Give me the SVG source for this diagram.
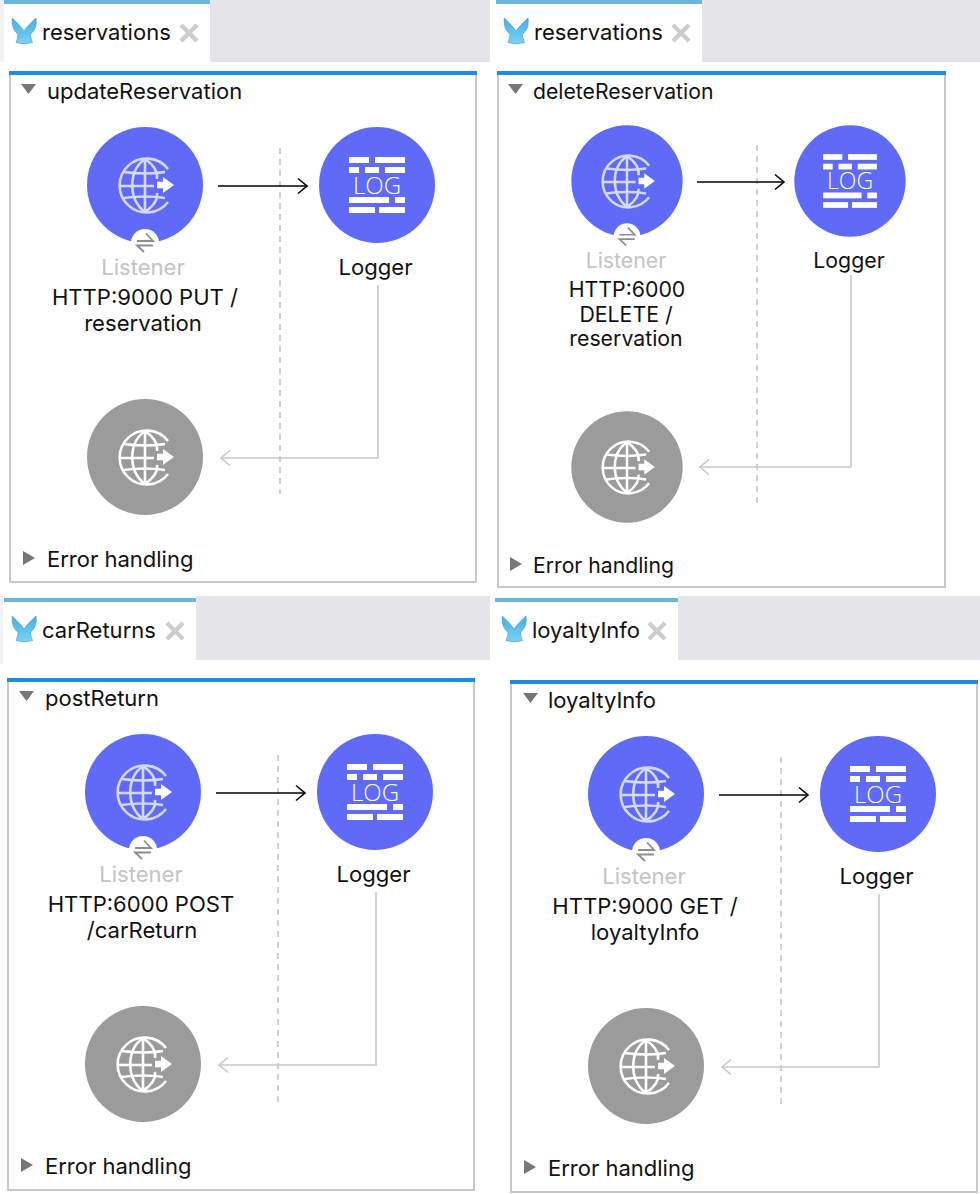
<svg xmlns="http://www.w3.org/2000/svg" xmlns:xlink="http://www.w3.org/1999/xlink" width="980" height="1194" viewBox="0 0 980 1194">
<style>
text{font-family:Inter,"Liberation Sans",sans-serif;fill:#111}
.t{font-size:22px}
.t2{font-size:21.200px}
.c{text-anchor:middle}
.l{font-size:22.100px}
.l2{font-size:21.300px}
.li{fill:#c4c4c4}
.lg{font-family:"Open Sans",sans-serif;font-weight:300;font-size:24px;fill:#fff;text-anchor:middle}
.fr{fill:#fff;stroke:#c8c8c8;stroke-width:2}
.bar{fill:#208be6}
.tabtop{fill:#6cb6dc}
.tabbg{fill:#e4e4e9}
.dash{stroke:#c6c6c6;stroke-width:1.600;stroke-dasharray:6 5;fill:none}
.flow{stroke:#000;stroke-width:1.600;fill:none;marker-end:url(#ab)}
.ret{stroke:#c8c8c8;stroke-width:1.600;fill:none;marker-end:url(#ag)}
.x{stroke:#cdcdcd;stroke-width:4.500;fill:none}
.tri{fill:#777}
</style>
<defs>
<linearGradient id="mg" x1="0" y1="0" x2="0" y2="1"><stop offset="0" stop-color="#45aee2"/><stop offset="1" stop-color="#7ad2f7"/></linearGradient>
<marker id="ab" markerUnits="userSpaceOnUse" markerWidth="14" markerHeight="18" refX="12" refY="9" orient="auto"><path d="M3 1.500 L12 9 L3 16.500" fill="none" stroke="#000" stroke-width="1.600"/></marker>
<marker id="ag" markerUnits="userSpaceOnUse" markerWidth="14" markerHeight="18" refX="12" refY="9" orient="auto"><path d="M3 1.500 L12 9 L3 16.500" fill="none" stroke="#c8c8c8" stroke-width="1.600"/></marker>
<g id="globe" fill="none" stroke-width="2.600">
<path d="M23 -16 A27 27 0 1 0 23 17"/>
<path d="M-21.500 -13 Q1 -10 20 -13 M-21.500 13 Q1 10 20 13 M-26 1H9"/>
<path d="M0 -26 C-17 -14 -17 14 0 27 M0 -26 C10 -19 13 -12 12 -6 M12 8 C13 14 10 20 0 27 M0 -26V27"/>
</g>
<path id="garrow" d="M12 -3.300H18V-8L29 0L18 8V3.300H12Z" stroke="none"/>
<path id="mule" d="M1.300 1 C4 4 9 8 13 14 C17 8 22 4 25 1 C26 8 24 14 19.500 17 C19.500 20 20.500 23 21.500 25.500 C16 27 10 27 5 25.500 C6 23 7 20 7 17 C2.500 14 .5 8 1.300 1Z" fill="url(#mg)" stroke="#3a97c8" stroke-width=".6"/>
<g id="listener">
<circle r="58" fill="#5f6bf6"/>
<g stroke="#d5d9f7"><use xlink:href="#globe" href="#globe"/></g>
<use xlink:href="#garrow" href="#garrow" fill="#fff"/>
<circle cx="0" cy="58" r="14" fill="#fff"/>
<path d="M-8 56H8L1 48.500 M8 60.500H-8L-1 67" fill="none" stroke="#8d8d8d" stroke-width="1.800"/>
</g>
<g id="response">
<circle r="58" fill="#9b9b9b"/>
<g stroke="#fff"><use xlink:href="#globe" href="#globe"/></g>
<use xlink:href="#garrow" href="#garrow" fill="#fff"/>
</g>
<g id="logger">
<circle r="58" fill="#5f6bf6"/>
<g fill="#fff">
<rect x="-28" y="-28" width="20" height="6"/><rect x="-2" y="-28" width="30" height="6"/>
<rect x="-28" y="-18" width="10" height="6"/><rect x="-12" y="-18" width="14" height="6"/><rect x="8" y="-18" width="20" height="6"/>
<rect x="-28" y="12" width="40" height="6"/><rect x="18" y="12" width="10" height="6"/>
<rect x="-28" y="22" width="26" height="6"/><rect x="2" y="22" width="26" height="6"/>
</g>
<text class="lg" x="0" y="8.500">LOG</text>
</g>
</defs>
<rect width="980" height="1194" fill="#fff"/>
<rect x="0" y="0" width="4" height="62" fill="#f2f2f4"/>
<rect x="0" y="596" width="3" height="68" fill="#f2f2f4"/>

<g id="panel-updateReservation-chrome">
<rect class="tabbg" x="210" y="0" width="280" height="62"/>
<rect class="tabtop" x="4" y="0" width="206" height="4"/>
<use xlink:href="#mule" href="#mule" x="11" y="17"/>
<text class="t" x="42" y="40">reservations</text>
<path class="x" d="M181 25L197 41M197 25L181 41"/>
<rect class="fr" x="10" y="72" width="466" height="510"/>
<rect class="bar" x="9" y="71" width="468" height="4"/>
<path class="tri" d="M21 84H36L28.500 94Z"/>
<text class="t" x="47" y="99">updateReservation</text>
<path class="tri" d="M23 551L35 558L23 565Z"/>
<text class="t" x="47" y="567">Error handling</text>
</g>
<g id="panel-deleteReservation-chrome">
<rect class="tabbg" x="702" y="0" width="278" height="62"/>
<rect class="tabtop" x="496" y="0" width="206" height="4"/>
<use xlink:href="#mule" href="#mule" x="503" y="17"/>
<text class="t" x="534" y="40">reservations</text>
<path class="x" d="M673 25L689 41M689 25L673 41"/>
<rect class="fr" x="498" y="72" width="447" height="515"/>
<rect class="bar" x="497" y="71" width="449" height="4"/>
<path class="tri" d="M508 84H523L515.500 94Z"/>
<text class="t2" x="533" y="99">deleteReservation</text>
<path class="tri" d="M510 557L522 564L510 571Z"/>
<text class="t2" x="533" y="573">Error handling</text>
</g>
<g id="panel-postReturn-chrome">
<rect class="tabbg" x="196" y="596" width="294" height="64"/>
<rect class="tabtop" x="4" y="598" width="192" height="4"/>
<use xlink:href="#mule" href="#mule" x="11" y="615"/>
<text class="t" x="42" y="638">carReturns</text>
<path class="x" d="M167 623L183 639M183 623L167 639"/>
<rect class="fr" x="8" y="680" width="466" height="510"/>
<rect class="bar" x="7" y="678" width="468" height="4"/>
<path class="tri" d="M19 691H34L26.500 701Z"/>
<text class="t" x="45" y="706">postReturn</text>
<path class="tri" d="M21 1158L33 1165L21 1172Z"/>
<text class="t" x="45" y="1174">Error handling</text>
</g>
<g id="panel-loyaltyInfo-chrome">
<rect class="tabbg" x="678" y="596" width="302" height="64"/>
<rect class="tabtop" x="495" y="598" width="183" height="4"/>
<use xlink:href="#mule" href="#mule" x="501" y="615"/>
<text class="t" x="532" y="638">loyaltyInfo</text>
<path class="x" d="M649 623L665 639M665 623L649 639"/>
<rect class="fr" x="511" y="682" width="466" height="510"/>
<rect class="bar" x="510" y="680" width="468" height="4"/>
<path class="tri" d="M523 693H538L530.500 703Z"/>
<text class="t" x="548" y="708">loyaltyInfo</text>
<path class="tri" d="M524 1160L536 1167L524 1174Z"/>
<text class="t" x="548" y="1176">Error handling</text>
</g>

<g id="connectors">
<path class="dash" d="M280 148V494"/><path class="flow" d="M218 186H307"/><path class="ret" d="M378 285V458H221"/>
<path class="dash" d="M757 145V505"/><path class="flow" d="M697 182H784"/><path class="ret" d="M851 275V467H700"/>
<path class="dash" d="M278 755V1102"/><path class="flow" d="M216 793H305"/><path class="ret" d="M376 892V1065H219"/>
<path class="dash" d="M781 757V1104"/><path class="flow" d="M719 795H808"/><path class="ret" d="M879 894V1067H722"/>
</g>

<g id="listener-update"><use xlink:href="#listener" href="#listener" transform="translate(145 185)"/>
<text class="l li c" x="143" y="275">Listener</text><text class="l c" x="145" y="305">HTTP:9000 PUT /</text><text class="l c" x="143" y="331">reservation</text></g>
<g id="logger-update"><use xlink:href="#logger" href="#logger" transform="translate(377 185)"/><text class="l c" x="375.500" y="275">Logger</text></g>
<g id="response-update"><use xlink:href="#response" href="#response" transform="translate(145 457)"/></g>

<g id="listener-delete"><use xlink:href="#listener" href="#listener" transform="translate(627 181) scale(.96)"/>
<text class="l2 li c" x="626" y="268">Listener</text><text class="l2 c" x="627" y="297">HTTP:6000</text><text class="l2 c" x="626" y="322">DELETE /</text><text class="l2 c" x="626" y="346">reservation</text></g>
<g id="logger-delete"><use xlink:href="#logger" href="#logger" transform="translate(850 181) scale(.96)"/><text class="l2 c" x="849" y="268">Logger</text></g>
<g id="response-delete"><use xlink:href="#response" href="#response" transform="translate(627 467) scale(.96)"/></g>

<g id="listener-post"><use xlink:href="#listener" href="#listener" transform="translate(143 792)"/>
<text class="l li c" x="141" y="882">Listener</text><text class="l c" x="141" y="912">HTTP:6000 POST</text><text class="l c" x="142" y="938">/carReturn</text></g>
<g id="logger-post"><use xlink:href="#logger" href="#logger" transform="translate(375 792)"/><text class="l c" x="373.500" y="882">Logger</text></g>
<g id="response-post"><use xlink:href="#response" href="#response" transform="translate(143 1064)"/></g>

<g id="listener-get"><use xlink:href="#listener" href="#listener" transform="translate(646 794)"/>
<text class="l li c" x="644" y="884">Listener</text><text class="l c" x="645" y="914">HTTP:9000 GET /</text><text class="l c" x="645" y="940">loyaltyInfo</text></g>
<g id="logger-get"><use xlink:href="#logger" href="#logger" transform="translate(878 794)"/><text class="l c" x="876.500" y="884">Logger</text></g>
<g id="response-get"><use xlink:href="#response" href="#response" transform="translate(646 1066)"/></g>
</svg>
